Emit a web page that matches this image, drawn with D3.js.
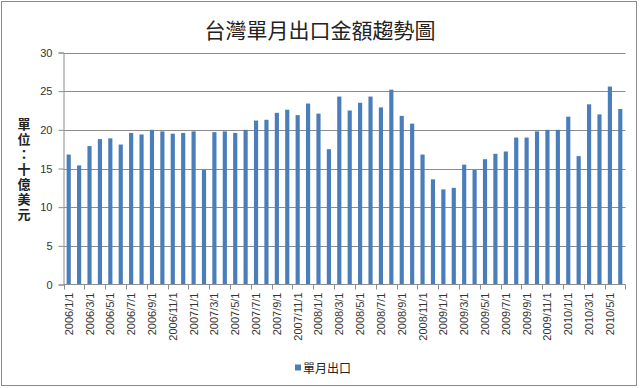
<!DOCTYPE html>
<html>
<head>
<meta charset="utf-8">
<script src="https://cdn.jsdelivr.net/npm/d3@7"></script>
<style>
  body { margin: 0; background: #fff; }
  svg { display: block; font-family: "Liberation Sans", Arial, sans-serif; }
</style>
</head>
<body>
<div id="chart"></div>
<script>
// months shown on the x axis (first day of each month)
const months = [
  '2006/1/1', '2006/2/1', '2006/3/1', '2006/4/1', '2006/5/1', '2006/6/1',
  '2006/7/1', '2006/8/1', '2006/9/1', '2006/10/1', '2006/11/1', '2006/12/1',
  '2007/1/1', '2007/2/1', '2007/3/1', '2007/4/1', '2007/5/1', '2007/6/1',
  '2007/7/1', '2007/8/1', '2007/9/1', '2007/10/1', '2007/11/1', '2007/12/1',
  '2008/1/1', '2008/2/1', '2008/3/1', '2008/4/1', '2008/5/1', '2008/6/1',
  '2008/7/1', '2008/8/1', '2008/9/1', '2008/10/1', '2008/11/1', '2008/12/1',
  '2009/1/1', '2009/2/1', '2009/3/1', '2009/4/1', '2009/5/1', '2009/6/1',
  '2009/7/1', '2009/8/1', '2009/9/1', '2009/10/1', '2009/11/1', '2009/12/1',
  '2010/1/1', '2010/2/1', '2010/3/1', '2010/4/1', '2010/5/1', '2010/6/1'
];

// monthly exports, billion USD
const exportsValue = [
  16.8, 15.4, 17.9, 18.8, 18.9, 18.1, 19.6, 19.4, 20.0, 19.8, 19.5, 19.6,
  19.8, 14.8, 19.7, 19.8, 19.6, 20.0, 21.2, 21.3, 22.2, 22.6, 21.9, 23.4,
  22.1, 17.5, 24.3, 22.5, 23.5, 24.3, 22.9, 25.2, 21.8, 20.8, 16.8, 13.6,
  12.3, 12.5, 15.5, 14.8, 16.2, 16.9, 17.2, 19.0, 19.0, 19.8, 20.0, 20.0,
  21.7, 16.6, 23.3, 22.0, 25.6, 22.7
];

const yTicks = [0, 5, 10, 15, 20, 25, 30];
const chartTitle = '台灣單月出口金額趨勢圖';
const yTitle = '單位：十億美元';
const seriesName = '單月出口';

const width = 640, height = 388;
const plot = { left: 63.5, right: 625.5, top: 52.5, bottom: 284.5 };
const barColor = '#4a7ebb';
const gridColor = '#8c8c8c';
const cjkFont = '"Noto Sans CJK TC", "Noto Sans CJK SC", sans-serif';

const svg = d3.select('#chart').append('svg')
  .attr('width', width).attr('height', height);

// outer frame
svg.append('rect')
  .attr('x', 1.5).attr('y', 1.5)
  .attr('width', 635).attr('height', 384)
  .attr('fill', '#fff').attr('stroke', '#8a8a8a');

const x = d3.scaleBand()
  .domain(months)
  .range([plot.left, plot.right])
  .paddingInner(0.6)
  .paddingOuter(0.3);

const y = d3.scaleLinear()
  .domain([0, 30])
  .range([plot.bottom, plot.top]);

// gridlines
svg.append('g').selectAll('line')
  .data(yTicks.filter(d => d > 0))
  .enter().append('line')
  .attr('x1', plot.left).attr('x2', plot.right)
  .attr('y1', d => Math.round(y(d)) + 0.5).attr('y2', d => Math.round(y(d)) + 0.5)
  .attr('stroke', gridColor).attr('stroke-width', 1);

// y axis
const yAxis = svg.append('g')
  .attr('transform', `translate(${plot.left},0)`)
  .call(d3.axisLeft(y).tickValues(yTicks).tickSize(5).tickPadding(6));
yAxis.select('.domain').attr('stroke', gridColor);
yAxis.selectAll('.tick line').attr('stroke', gridColor);
yAxis.selectAll('.tick text')
  .attr('fill', '#333').style('font-size', '11px')
  .style('font-family', '"Liberation Sans", Arial, sans-serif');

// bars
svg.append('g').selectAll('rect')
  .data(exportsValue)
  .enter().append('rect')
  .attr('x', (d, i) => x(months[i]))
  .attr('width', x.bandwidth())
  .attr('y', d => y(d))
  .attr('height', d => y(0) - y(d))
  .attr('fill', barColor);

// x axis line and tick marks every two months
const step = x.step();
const xg = svg.append('g');
xg.append('line')
  .attr('x1', plot.left).attr('x2', plot.right)
  .attr('y1', plot.bottom).attr('y2', plot.bottom)
  .attr('stroke', gridColor);
const tickMonths = months.filter((m, i) => i % 2 === 0);
const tickX = d => d === 'end' ? plot.right : Math.round(x(d) + x.bandwidth() / 2 - step / 2) + 0.5;
xg.selectAll('.xtick')
  .data(tickMonths.concat(['end']))
  .enter().append('line')
  .attr('class', 'xtick')
  .attr('x1', tickX).attr('x2', tickX)
  .attr('y1', plot.bottom).attr('y2', plot.bottom + 5)
  .attr('stroke', gridColor);

xg.selectAll('.xlabel')
  .data(tickMonths)
  .enter().append('text')
  .attr('class', 'xlabel')
  .attr('transform', d => `translate(${x(d) + x.bandwidth() / 2 + 4},${plot.bottom + 8}) rotate(-90)`)
  .attr('text-anchor', 'end')
  .attr('fill', '#333')
  .style('font-size', '11px')
  .text(d => d);

// title
svg.append('text')
  .attr('x', 320).attr('y', 38)
  .attr('text-anchor', 'middle')
  .attr('fill', '#222')
  .style('font-size', '21px')
  .style('font-family', cjkFont)
  .text(chartTitle);

// y axis title, written vertically
svg.append('text')
  .attr('x', 24).attr('y', 170)
  .attr('text-anchor', 'middle')
  .attr('fill', '#222')
  .style('writing-mode', 'vertical-rl')
  .style('text-orientation', 'upright')
  .style('letter-spacing', '2px')
  .style('font-size', '13px')
  .style('font-weight', 'bold')
  .style('font-family', cjkFont)
  .text(yTitle);

// legend
const legend = svg.append('g').attr('transform', 'translate(295,369)');
legend.append('rect')
  .attr('x', 0).attr('y', -4.5).attr('width', 6).attr('height', 6)
  .attr('fill', barColor);
legend.append('text')
  .attr('x', 8).attr('y', 4)
  .attr('fill', '#222')
  .style('font-size', '12px')
  .style('font-family', cjkFont)
  .text(seriesName);
</script>
</body>
</html>
